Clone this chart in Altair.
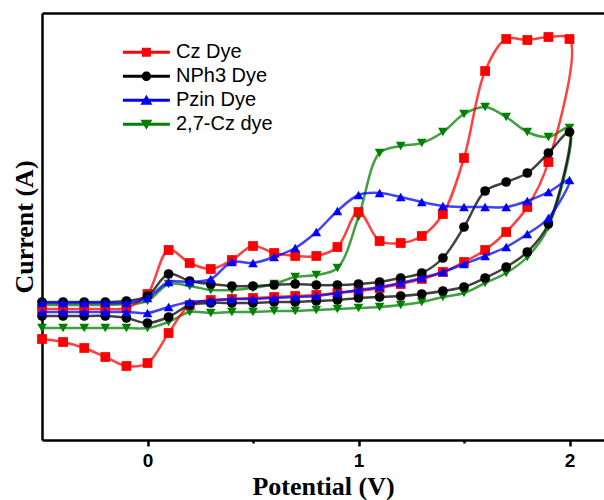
import altair as alt
import pandas as pd

# ---- data (arbitrary current units) ----
dyes = ["Cz Dye", "NPh3 Dye", "Pzin Dye", "2,7-Cz dye"]
colors = ["#ff0000", "#000000", "#0000ff", "#008000"]
plot_shapes = ["square", "circle", "triangle-up", "triangle-down"]

potential_fwd = [-0.5, -0.4, -0.3, -0.2, -0.1, 0.0, 0.1, 0.2, 0.3, 0.4, 0.5, 0.6, 0.7,
                 0.8, 0.9, 1.0, 1.1, 1.2, 1.3, 1.4, 1.5, 1.6, 1.7, 1.8, 1.9, 2.0]
potential_rev = [1.9, 1.8, 1.7, 1.6, 1.5, 1.4, 1.3, 1.2, 1.1, 1.0, 0.9, 0.8, 0.7,
                 0.6, 0.5, 0.4, 0.3, 0.2, 0.1, 0.0, -0.1, -0.2, -0.3, -0.4, -0.5]

cz_fwd = [131, 131, 131, 131, 132, 146, 190, 177, 171, 180, 194, 187, 184,
          184, 193, 228, 199, 197, 204, 226, 282, 369, 401, 400, 403, 401]
cz_rev = [278, 233, 208, 190, 178, 168, 161, 156, 152, 149, 147, 145, 144,
          143, 142, 141, 140, 135, 107, 77, 74, 83, 92, 98, 101]

nph3_fwd = [138, 138, 138, 138, 139, 144, 166, 159, 156, 154, 154, 155, 156,
            155, 155, 156, 158, 162, 167, 182, 213, 249, 258, 267, 287, 308]
nph3_rev = [216, 188, 173, 162, 153, 149, 146, 144, 143, 142, 140, 139, 138,
            138, 137, 137, 137, 135, 123, 117, 122, 124, 124, 124, 124]

pzin_fwd = [137, 137, 137, 137, 137, 142, 158, 158, 161, 178, 177, 183, 192,
            208, 229, 245, 247, 243, 238, 234, 233, 233, 233, 239, 248, 260]
pzin_rev = [222, 206, 193, 184, 176, 168, 162, 157, 153, 150, 147, 144, 143,
            142, 141, 141, 139, 138, 133, 127, 128, 128, 128, 128, 128]

cz27_fwd = [135, 135, 135, 135, 136, 139, 156, 154, 150, 150, 152, 156, 163,
            165, 172, 223, 287, 294, 297, 308, 326, 333, 323, 308, 303, 312]
cz27_rev = [213, 183, 167, 157, 147, 143, 138, 135, 133, 132, 131, 130, 129,
            129, 128, 128, 127, 128, 118, 112, 112, 112, 112, 112, 112]

series = {
    "Cz Dye": cz_fwd + cz_rev,
    "NPh3 Dye": nph3_fwd + nph3_rev,
    "Pzin Dye": pzin_fwd + pzin_rev,
    "2,7-Cz dye": cz27_fwd + cz27_rev,
}
potential_all = potential_fwd + potential_rev

rows = []
for d in dyes:
    for i, (p, c) in enumerate(zip(potential_all, series[d])):
        rows.append({"dye": d, "potential": p, "current": c, "idx": i})
df = pd.DataFrame(rows)

# legend symbols: line + marker as custom paths
legend_paths = [
    "M-4.7,-0.3L4.7,-0.3L4.7,0.3L-4.7,0.3Z M-0.9,-0.9L0.9,-0.9L0.9,0.9L-0.9,0.9Z",
    "M-4.7,-0.3L4.7,-0.3L4.7,0.3L-4.7,0.3Z M-0.95,0A0.95,0.95 0 1,1 0.95,0A0.95,0.95 0 1,1 -0.95,0Z",
    "M-4.7,-0.3L4.7,-0.3L4.7,0.3L-4.7,0.3Z M0,-1.1L1.2,0.9L-1.2,0.9Z",
    "M-4.7,-0.3L4.7,-0.3L4.7,0.3L-4.7,0.3Z M-1.2,-0.9L1.2,-0.9L0,1.1Z",
]

x_scale = alt.Scale(domain=[-0.5, 2.1635], nice=False, zero=False)
y_scale = alt.Scale(domain=[0, 427], nice=False, zero=False)

x_axis = alt.Axis(
    values=[0, 0.5, 1, 1.5, 2],
    labelExpr="datum.value % 1 === 0 ? format(datum.value, 'd') : ''",
    tickSize={"condition": {"test": "datum.value % 1 !== 0", "value": 3}, "value": 6},
    tickWidth=2.5, tickColor="black",
    domainColor="black", domainWidth=2.5,
    labelFont="Liberation Sans", labelFontWeight="bold", labelFontSize=19,
    labelColor="black", labelPadding=5, labelFlush=False,
    title="Potential (V)", titleFont="Liberation Serif", titleFontWeight="bold",
    titleFontSize=26, titleColor="black", titlePadding=3, grid=False,
)
y_axis = alt.Axis(
    ticks=False, labels=False, grid=False,
    domainColor="black", domainWidth=2.5,
    title="Current (A)", titleFont="Liberation Serif", titleFontWeight="bold",
    titleFontSize=26, titleColor="black", titlePadding=5,
)
top_axis = alt.Axis(orient="top", ticks=False, labels=False, grid=False,
                    domainColor="black", domainWidth=2.5, title=None)

color_enc = alt.Color("dye:N", scale=alt.Scale(domain=dyes, range=colors), legend=None)
shape_enc = alt.Shape("dye:N", scale=alt.Scale(domain=dyes, range=plot_shapes), legend=None)

base = alt.Chart(df)
draw_order = ["2,7-Cz dye", "Cz Dye", "NPh3 Dye", "Pzin Dye"]
layers = []
for d in draw_order:
    sub = base.transform_filter(alt.datum.dye == d)
    layers.append(
        sub.mark_line(interpolate="catmull-rom", strokeWidth=2.5, strokeOpacity=0.75).encode(
            x=alt.X("potential:Q", scale=x_scale, axis=x_axis),
            y=alt.Y("current:Q", scale=y_scale, axis=y_axis),
            color=color_enc,
            order="idx:Q",
        )
    )
    layers.append(
        sub.mark_point(filled=True, opacity=1, size=95, strokeWidth=0).encode(
            x=alt.X("potential:Q", scale=x_scale, axis=x_axis),
            y=alt.Y("current:Q", scale=y_scale, axis=y_axis),
            color=color_enc,
            shape=shape_enc,
        )
    )

legend_def = alt.Legend(
    title=None, orient="none", legendX=94.4, legendY=29.3, padding=0,
    symbolSize=100, symbolOpacity=1, symbolStrokeWidth=0,
    labelFont="Liberation Sans", labelFontSize=20, labelColor="black",
    labelOffset=19.6, rowPadding=4,
)
legend_layer = base.transform_filter("false").mark_point(filled=True, opacity=1).encode(
    x=alt.X("potential:Q", scale=x_scale, axis=top_axis),
    color=alt.Color("dye:N", scale=alt.Scale(domain=dyes, range=colors), legend=legend_def),
    shape=alt.Shape("dye:N", scale=alt.Scale(domain=dyes, range=legend_paths), legend=legend_def),
)

chart = (
    alt.layer(alt.layer(*layers), legend_layer)
    .resolve_scale(color="independent", shape="independent")
    .resolve_axis(x="independent")
    .properties(
        width=562, height=427,
        padding={"left": 42, "top": 13, "right": 0, "bottom": 60},
        autosize=alt.AutoSizeParams(type="none"),
        background="white",
    )
    .configure_view(stroke=None)
)

chart.save("out.html", embed_options={"renderer": "svg", "actions": False})
